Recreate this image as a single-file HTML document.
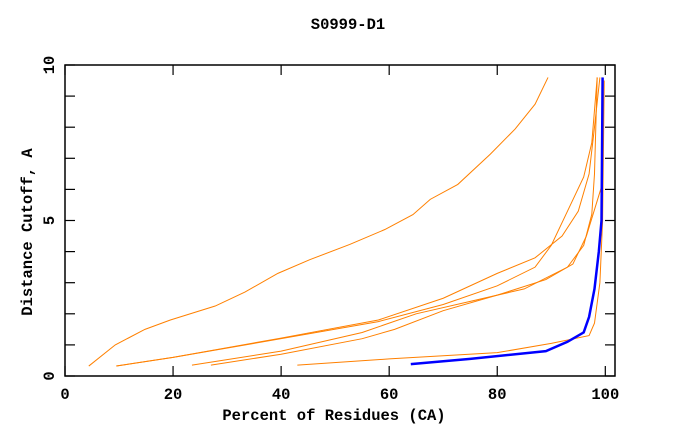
<!DOCTYPE html>
<html><head><meta charset="utf-8"><style>
body{margin:0;background:#fff;}
svg text{font-family:"Liberation Mono",monospace;font-weight:bold;font-size:15.5px;fill:#000;}
</style></head><body>
<svg id="chart" width="680" height="440">
<text x="348" y="29" text-anchor="middle">S0999-D1</text>
<text x="334" y="420" text-anchor="middle">Percent of Residues (CA)</text>
<text transform="translate(32,232) rotate(-90)" text-anchor="middle">Distance Cutoff, A</text>
<g id="ticks"></g>
<g id="series"></g>
<rect x="65" y="65" width="550" height="311" fill="none" stroke="#000" stroke-width="1.5"/>
</svg>
<script>
const xTicks=[0,20,40,60,80,100];
const yTicks=[0,5,10];
const yMinor=[1,2,3,4,6,7,8,9];
const curveA=[[4.4,0.32],[9.3,1.0],[14.8,1.5],[19.5,1.8],[27.8,2.25],[33.3,2.7],[39.4,3.3],[45.3,3.74],[52.7,4.23],[59.2,4.71],[64.4,5.19],[67.6,5.68],[72.7,6.16],[78.7,7.13],[83.3,7.94],[87,8.74],[89.4,9.6]];
const curveB=[[9.5,0.32],[20,0.6],[40,1.2],[58,1.75],[70,2.3],[80,2.9],[87,3.5],[90,4.2],[93,5.3],[96,6.4],[97.5,7.5],[98.5,9.6]];
const curveC=[[9.5,0.32],[20,0.6],[40,1.22],[58,1.8],[70,2.5],[80,3.3],[87,3.8],[92,4.5],[95,5.3],[97,6.5],[98,8],[99,9.6]];
const curveD=[[23.5,0.35],[40,0.8],[55,1.4],[65,2.0],[75,2.4],[85,2.8],[93,3.5],[96,4.2],[97.5,5.2],[98,6.5],[98.5,9.6]];
const curveE=[[27,0.35],[40,0.7],[55,1.2],[61,1.5],[70,2.1],[80,2.6],[89,3.1],[94,3.6],[96.5,4.5],[99.5,6.2]];
const curveF=[[43,0.35],[60,0.55],[80,0.75],[90,1.05],[97,1.3],[98,1.7],[99,3],[99.5,5],[99.8,9.5]];
const curveBlue=[[64,0.38],[75,0.55],[89,0.8],[93,1.1],[96,1.4],[97,1.9],[98,2.8],[98.8,4],[99.3,5],[99.5,9.6]];
const NS='http://www.w3.org/2000/svg';
function xs(v){return 65+v*5.403;}
function ys(v){return 376-v*31.1;}
const tg=document.getElementById('ticks');
function line(x1,y1,x2,y2){const l=document.createElementNS(NS,'line');l.setAttribute('x1',x1);l.setAttribute('y1',y1);l.setAttribute('x2',x2);l.setAttribute('y2',y2);l.setAttribute('stroke','#000');l.setAttribute('stroke-width','1.2');tg.appendChild(l);return l;}
xTicks.forEach(v=>{
  const a=line(xs(v),376,xs(v),366);
  
  
  const b=line(xs(v),65,xs(v),75);
  
  
  const t=document.createElementNS(NS,'text');t.setAttribute('x',xs(v));t.setAttribute('y',399);t.setAttribute('text-anchor','middle');t.textContent=v;
  
  
  tg.appendChild(t);
});
yTicks.concat(yMinor).forEach(v=>{
  const a=line(65,ys(v),75,ys(v));
  
  
  const b=line(615,ys(v),605,ys(v));
  
  
});
yTicks.forEach(v=>{
  const t=document.createElementNS(NS,'text');
  t.setAttribute('transform','translate(54,'+ys(v)+') rotate(-90)');t.setAttribute('text-anchor','middle');t.textContent=v;
  
  
  tg.appendChild(t);
});
const sg=document.getElementById('series');
function draw(d,color,w,name){
  const p=document.createElementNS(NS,'polyline');
  p.setAttribute('points',d.map(q=>xs(q[0])+','+ys(q[1])).join(' '));
  p.setAttribute('fill','none');p.setAttribute('stroke',color);p.setAttribute('stroke-width',w);
  
  
  sg.appendChild(p);
}
draw(curveA,'#ff8000',1,'orange-curve-a');
draw(curveB,'#ff8000',1,'orange-curve-b');
draw(curveC,'#ff8000',1,'orange-curve-c');
draw(curveD,'#ff8000',1,'orange-curve-d');
draw(curveE,'#ff8000',1,'orange-curve-e');
draw(curveF,'#ff8000',1,'orange-curve-f');
draw(curveBlue,'#0000ff',2.5,'blue-curve');
</script>
</body></html>
